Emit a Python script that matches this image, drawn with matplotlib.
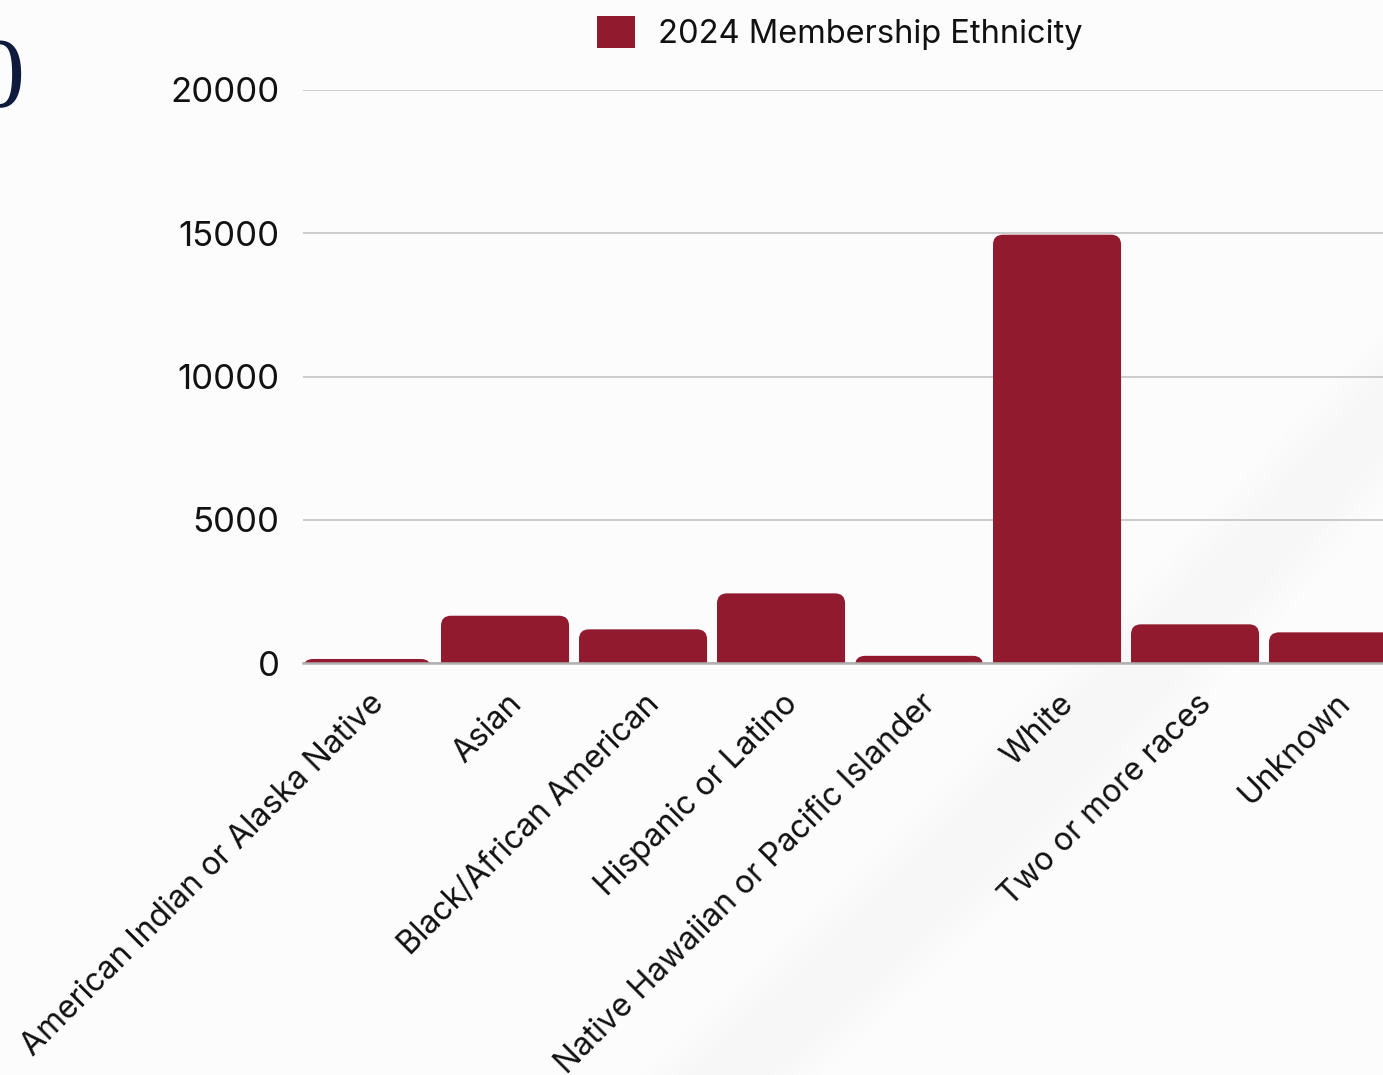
import matplotlib
matplotlib.use("Agg")
import matplotlib.pyplot as plt
import numpy as np
from matplotlib.patches import FancyBboxPatch, Patch, Polygon
from matplotlib.transforms import ScaledTranslation

categories = ["American Indian or Alaska Native", "Asian", "Black/African American",
              "Hispanic or Latino", "Native Hawaiian or Pacific Islander", "White",
              "Two or more races", "Unknown"]
members_2024 = [140, 1650, 1175, 2430, 250, 14950, 1350, 1070]
series_label = "2024 Membership Ethnicity"
yticks = [0, 5000, 10000, 15000, 20000]

BAR = "#921A2F"
W, H, DPI = 1383, 1075, 100
FONT = "Inter"

fig = plt.figure(figsize=(W / DPI, H / DPI), dpi=DPI, facecolor="#fcfcfc")

# decorative faint background swoosh
def band(pts_a, pts_b, alpha):
    pts = np.vstack([pts_a, pts_b[::-1]])
    pts = pts / np.array([W, H])
    pts[:, 1] = 1 - pts[:, 1]
    fig.patches.append(Polygon(pts, closed=True, transform=fig.transFigure,
                               facecolor="black", edgecolor="none", alpha=alpha, zorder=-5))

t = np.linspace(0, 1, 60)
def curve(p0, p1, p2):
    return np.outer((1 - t) ** 2, p0) + np.outer(2 * (1 - t) * t, p1) + np.outer(t ** 2, p2)

for k in [0, 12, 24, 36, 48]:
    inner = curve(np.array([640 + k, 1075]), np.array([990 + k, 750]), np.array([1383, 330 + k]))
    outer = curve(np.array([820 - k, 1075]), np.array([1100 - k, 830]), np.array([1383, 500 - k]))
    band(inner, outer, 0.004)

# big cut-off glyph at top-left
fig.text(24 / W, 1 - 106 / H, "0", ha="right", va="baseline", fontsize=72,
         family="Liberation Serif", color="#0f1b3d")

ax = fig.add_axes([303 / W, 1 - 663 / H, 1 - 303 / W, (663 - 90) / H])
ax.set_facecolor("none")

bw = 0.928
x = np.arange(len(categories))
ax.set_xlim(-bw / 2, -bw / 2 + 1080 / 138)
ax.set_ylim(0, 20000)

px_x = 138.0
px_y = 573.0 / 20000
r_px = 10
r_x = r_px / px_x
aspect = (1 / px_y) / (1 / px_x)
for xi, v in zip(x, members_2024):
    bottom = -1500
    p = FancyBboxPatch((xi - bw / 2, bottom), bw, v - bottom,
                       boxstyle=f"round,pad=0,rounding_size={r_x}",
                       mutation_aspect=aspect, facecolor=BAR, edgecolor="none",
                       zorder=2, clip_on=True)
    ax.add_patch(p)

ax.set_yticks(yticks)
ax.set_yticklabels([str(v) for v in yticks])
ax.grid(axis="y", color="#c8c8c8", linewidth=1.3, zorder=0)
ax.set_axisbelow(True)
for s in ["top", "right", "left"]:
    ax.spines[s].set_visible(False)
ax.spines["bottom"].set_color("#b0b0b0")
ax.spines["bottom"].set_linewidth(1.8)
ax.spines["bottom"].set_zorder(3)
ax.tick_params(axis="y", length=0, pad=17, labelsize=25, labelcolor="#111111")
ax.tick_params(axis="x", length=0, pad=26, labelsize=23, labelcolor="#111111")
for lab in ax.get_yticklabels():
    lab.set_family(FONT)

ax.set_xticks(x)
ax.set_xticklabels(categories, rotation=45, ha="right", va="center",
                   rotation_mode="anchor", family=FONT)
off = ScaledTranslation(12 / DPI, 0, fig.dpi_scale_trans)
for lab in ax.get_xticklabels():
    lab.set_transform(lab.get_transform() + off)

handle = Patch(facecolor=BAR, edgecolor="none", label=series_label)
fig.legend(handles=[handle], loc="center", bbox_to_anchor=(840 / W, 1 - 33 / H),
           frameon=False, prop={"family": FONT, "size": 23.5},
           handlelength=1.15, handleheight=1.15, handletextpad=0.7, labelcolor="#111111")

fig.savefig("out.png", dpi=DPI, facecolor=fig.get_facecolor())
